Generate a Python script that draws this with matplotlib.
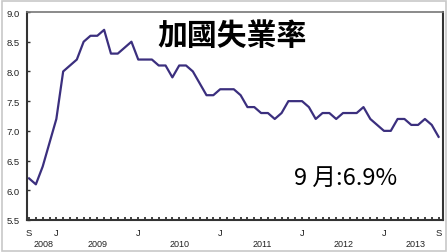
import numpy as np
import matplotlib
matplotlib.use("Agg")
import matplotlib.pyplot as plt
from matplotlib.patches import Rectangle
import matplotlib.transforms as mtransforms

# Canada unemployment rate, monthly, Sep 2008 - Sep 2013 (%)
rate = [
    6.2, 6.1, 6.4, 6.8,                                            # 2008 S-D
    7.2, 8.0, 8.1, 8.2, 8.5, 8.6, 8.6, 8.7, 8.3, 8.3, 8.4, 8.5,    # 2009
    8.2, 8.2, 8.2, 8.1, 8.1, 7.9, 8.1, 8.1, 8.0, 7.8, 7.6, 7.6,    # 2010
    7.7, 7.7, 7.7, 7.6, 7.4, 7.4, 7.3, 7.3, 7.2, 7.3, 7.5, 7.5,    # 2011
    7.5, 7.4, 7.2, 7.3, 7.3, 7.2, 7.3, 7.3, 7.3, 7.4, 7.2, 7.1,    # 2012
    7.0, 7.0, 7.2, 7.2, 7.1, 7.1, 7.2, 7.1, 6.9,                   # 2013 J-S
]
month_ticks = [0, 4, 16, 28, 40, 52, 60]
month_labels = ["S", "J", "J", "J", "J", "J", "S"]
years = ["2008", "2009", "2010", "2011", "2012", "2013"]
year_spans = [(0, 3), (4, 15), (16, 27), (28, 39), (40, 51), (52, 60)]
yticks = [5.5, 6.0, 6.5, 7.0, 7.5, 8.0, 8.5, 9.0]
title = "加國失業率"
note = "9 月:6.9%"

W, H = 448, 253
fig = plt.figure(figsize=(W / 100, H / 100), dpi=100)
fig.patch.set_facecolor("white")

# outer light frame
fig.patches.append(Rectangle((2 / W, 1 / H), (W - 4) / W, (H - 3) / H,
                             transform=fig.transFigure, fill=False,
                             edgecolor="#c8c8c8", linewidth=1.2))

ax = fig.add_axes([27 / W, 1 - 221 / H, (443 - 27) / W, (221 - 13) / H])
x = np.arange(len(rate))
ax.plot(x, rate, color="#3b2f7e", linewidth=1.6, solid_joinstyle="round")

ax.set_xlim(-0.3, 60.65)
ax.set_ylim(5.5, 9.0)

tick_font = dict(family="Liberation Sans", size=6.8)
ax.set_yticks(yticks)
ax.set_yticklabels([f"{v:.1f}" for v in yticks], fontdict=tick_font, color="#222222")
ax.set_xticks(month_ticks)
ax.set_xticklabels(month_labels, fontdict=tick_font, color="#222222")
ax.set_xticks(x, minor=True)
ax.tick_params(axis="y", direction="in", length=2, width=1, color="#333333", pad=5)
ax.tick_params(axis="x", which="both", direction="in", length=2.5, width=1.3,
               color="#333333", pad=6)

for side in ["left", "bottom", "right"]:
    ax.spines[side].set_color("#333333")
    ax.spines[side].set_linewidth(1.5)
ax.spines["top"].set_color("#777777")
ax.spines["top"].set_linewidth(1.2)

# year labels under month labels
trans = mtransforms.blended_transform_factory(ax.transData, fig.transFigure)
for yr, (a, b) in zip(years, year_spans):
    ax.text((a + b) / 2 + 0.6, 1 - 245 / H, yr, transform=trans, ha="center",
            va="center", fontdict=dict(family="Liberation Sans", size=6.5),
            color="#222222")

fig.text(232 / W, 1 - 36 / H, title, ha="center", va="center",
         family=["Noto Sans CJK TC", "DejaVu Sans"], fontsize=21.5,
         weight="bold", color="black")
fig.text(346 / W, 1 - 178 / H, note, ha="center", va="center",
         family=["Noto Sans CJK TC", "DejaVu Sans"], fontsize=17,
         color="black")

fig.savefig("out.png", dpi=100)
